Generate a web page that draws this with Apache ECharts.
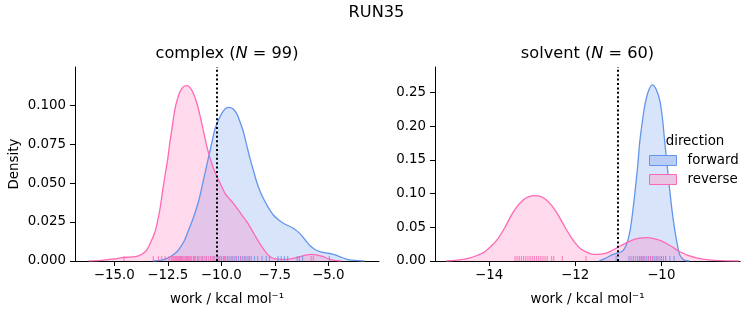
<!DOCTYPE html>
<html><head><meta charset="utf-8">
<script src="https://cdn.jsdelivr.net/npm/echarts@6/dist/echarts.min.js"></script>
<style>html,body{margin:0;padding:0;background:#fff}#c{width:753px;height:325px}</style>
</head><body><div id="c"></div>
<script>
// ---- data ----
const complexForwardKde = [[-13.2,0],[-12.8,0.0005],[-12.48,0.002],[-12.2,0.0045],[-12.01,0.007],[-11.75,0.0125],[-11.54,0.0195],[-11.3,0.028],[-11.07,0.038],[-10.85,0.051],[-10.61,0.0658],[-10.45,0.0755],[-10.29,0.085],[-10.13,0.0905],[-9.98,0.0947],[-9.8,0.0978],[-9.63,0.0985],[-9.45,0.0975],[-9.28,0.0945],[-9.12,0.089],[-8.97,0.0829],[-8.81,0.074],[-8.66,0.0658],[-8.5,0.058],[-8.35,0.0508],[-8.2,0.045],[-8.04,0.0402],[-7.8,0.0342],[-7.57,0.0295],[-7.33,0.0265],[-7.1,0.0242],[-6.87,0.0226],[-6.64,0.021],[-6.44,0.019],[-6.24,0.0163],[-6.05,0.013],[-5.85,0.0098],[-5.6,0.0072],[-5.39,0.006],[-5.1,0.0052],[-4.84,0.0045],[-4.65,0.0037],[-4.45,0.0027],[-4.2,0.0014],[-3.91,0.0006],[-3.6,0.0002],[-3.3,0]];
const complexReverseKde = [[-16.2,0],[-15.6,0.0004],[-15.0,0.0013],[-14.65,0.0021],[-14.2,0.0026],[-13.95,0.003],[-13.7,0.0045],[-13.49,0.007],[-13.3,0.012],[-13.1,0.0188],[-12.98,0.0255],[-12.86,0.034],[-12.75,0.0445],[-12.63,0.055],[-12.5,0.066],[-12.4,0.0765],[-12.28,0.0875],[-12.16,0.098],[-12.05,0.104],[-11.95,0.108],[-11.8,0.1115],[-11.62,0.1124],[-11.45,0.111],[-11.31,0.1075],[-11.15,0.1015],[-11.0,0.0935],[-10.8,0.081],[-10.61,0.07],[-10.37,0.0595],[-10.2,0.054],[-10.06,0.05],[-9.83,0.0434],[-9.64,0.0402],[-9.44,0.037],[-9.12,0.031],[-8.81,0.0252],[-8.58,0.02],[-8.35,0.0145],[-8.1,0.009],[-7.88,0.0049],[-7.68,0.0024],[-7.49,0.0013],[-7.2,0.001],[-6.94,0.0011],[-6.6,0.0018],[-6.32,0.0028],[-6.05,0.0038],[-5.78,0.0043],[-5.5,0.0038],[-5.23,0.0028],[-4.99,0.0014],[-4.77,0.0006],[-4.4,0]];
const solventForwardKde = [[-11.45,0],[-11.3,0.004],[-11.15,0.009],[-11.04,0.0114],[-10.95,0.013],[-10.88,0.0163],[-10.8,0.026],[-10.73,0.0435],[-10.67,0.07],[-10.61,0.103],[-10.55,0.14],[-10.5,0.177],[-10.44,0.207],[-10.38,0.232],[-10.3,0.252],[-10.21,0.2615],[-10.12,0.255],[-10.03,0.237],[-9.97,0.21],[-9.92,0.177],[-9.86,0.14],[-9.8,0.103],[-9.74,0.07],[-9.68,0.0435],[-9.62,0.022],[-9.57,0.0089],[-9.5,0.003],[-9.45,0.001],[-9.35,0]];
const solventReverseKde = [[-15.0,0],[-14.75,0.0012],[-14.49,0.004],[-14.3,0.0078],[-14.1,0.0138],[-13.95,0.0225],[-13.79,0.0337],[-13.63,0.0505],[-13.48,0.0684],[-13.35,0.081],[-13.21,0.0906],[-13.08,0.0955],[-12.94,0.097],[-12.8,0.0955],[-12.67,0.0906],[-12.53,0.081],[-12.4,0.0684],[-12.24,0.0505],[-12.08,0.0337],[-11.89,0.019],[-11.7,0.0122],[-11.55,0.0097],[-11.4,0.0102],[-11.25,0.0125],[-11.12,0.0163],[-10.93,0.023],[-10.73,0.0295],[-10.54,0.0335],[-10.34,0.0346],[-10.15,0.0328],[-9.95,0.0285],[-9.76,0.0215],[-9.57,0.0138],[-9.38,0.0085],[-9.18,0.0048],[-8.9,0.0017],[-8.63,0.0005],[-8.2,0]];

const complexForwardWork = [-11.9,-11.6,-11.3,-11.1,-10.9,-10.7,-10.5,-10.35,-10.2,-10.1,-10.0,-9.9,-9.8,-9.7,-9.6,-9.5,-9.4,-9.3,-9.2,-9.1,-9.0,-8.9,-8.8,-8.7,-8.6,-8.45,-8.3,-8.1,-7.9,-7.75,-7.35,-7.2,-7.05,-6.9,-6.45,-6.35,-6.2,-4.95];
const complexReverseWork = [-14.55,-13.18,-12.94,-12.79,-12.63,-12.45,-12.35,-12.3,-12.25,-12.2,-12.15,-12.1,-12.05,-12.0,-11.95,-11.9,-11.85,-11.8,-11.75,-11.7,-11.65,-11.6,-11.55,-11.5,-11.45,-11.4,-11.3,-11.25,-11.2,-11.1,-11.0,-10.9,-10.8,-10.7,-10.6,-10.5,-10.4,-10.3,-10.15,-10.0,-9.85,-9.7,-9.5,-9.3,-9.1,-8.9,-8.7,-5.8,-5.7];
const solventForwardWork = [-11.05,-10.75,-10.65,-10.55,-10.5,-10.45,-10.4,-10.35,-10.3,-10.25,-10.2,-10.15,-10.1,-10.05,-10.0,-9.95,-9.9,-9.8,-9.7];
const solventReverseWork = [-13.4,-13.35,-13.3,-13.25,-13.2,-13.15,-13.1,-13.05,-13.0,-12.95,-12.9,-12.85,-12.8,-12.75,-12.7,-12.65,-12.55,-12.5,-12.3,-11.75,-10.7,-10.6,-10.5,-10.45,-10.4,-10.3,-10.25,-10.2,-10.1,-10.0,-9.9];

const complexMarker = -10.2;
const solventMarker = -11.01;

const complexXTicks = [-15, -12.5, -10, -7.5, -5];
const complexYTicks = [0, 0.025, 0.05, 0.075, 0.1];
const solventXTicks = [-14, -12, -10];
const solventYTicks = [0, 0.05, 0.1, 0.15, 0.2, 0.25];

const FONT = 'DejaVu Sans';
const FWD = '#6495ED', REV = '#FF69B4';
const TICK_FS = 13.4, TITLE_FS = 16.2;

function minus(s){ return s.replace('-', '\u2212'); }
function xAxis(idx, min, max, ticks, dec){
  return {
    type:'value', gridIndex: idx, min, max,
    axisLine:{show:true, onZero:false, lineStyle:{color:'#000', width:1}},
    axisTick:{show:true, length:5, lineStyle:{color:'#000', width:1}, customValues: ticks},
    axisLabel:{customValues: ticks, formatter: v => minus(v.toFixed(dec)), color:'#000', fontSize:TICK_FS, fontFamily:FONT, margin:8},
    splitLine:{show:false},
    name:'work / kcal mol\u207B\u00B9', nameLocation:'middle', nameGap:32,
    nameTextStyle:{color:'#000', fontSize:TICK_FS, fontFamily:FONT}
  };
}
function yAxis(idx, max, ticks, dec, name){
  return {
    type:'value', gridIndex: idx, min:0, max,
    axisLine:{show:true, lineStyle:{color:'#000', width:1}},
    axisTick:{show:true, length:5, lineStyle:{color:'#000', width:1}, customValues: ticks},
    axisLabel:{customValues: ticks, formatter: v => v.toFixed(dec), color:'#000', fontSize:TICK_FS, fontFamily:FONT, margin:9},
    splitLine:{show:false},
    name: name || '', nameLocation:'middle', nameGap:54,
    nameTextStyle:{color:'#000', fontSize:TICK_FS, fontFamily:FONT}
  };
}
function kde(name, data, color, idx, marker){
  const s = {
    name, type:'line', xAxisIndex:idx, yAxisIndex:idx, data, smooth:0.3, symbol:'none',
    lineStyle:{color, width:1.3}, itemStyle:{color},
    areaStyle:{color, opacity:0.25}, silent:true, z:2
  };
  if (marker !== undefined) {
    s.markLine = {silent:true, symbol:['none','none'], label:{show:false},
      lineStyle:{color:'#000', type:[2,2.4], width:2}, data:[{xAxis:marker}], z:5};
  }
  return s;
}
function rug(name, vals, color, idx){
  return {
    name, type:'scatter', xAxisIndex:idx, yAxisIndex:idx,
    data: vals.map(v => [v, 0]), symbol:'rect', symbolSize:[1.2,5], symbolOffset:[0,-2.5],
    itemStyle:{color, opacity:0.75}, silent:true, z:3
  };
}

const chart = echarts.init(document.getElementById('c'), null, {renderer:'canvas'});
chart.setOption({
  animation:false,
  backgroundColor:'#fff',
  grid:[{left:75, top:67, width:304, height:194}, {left:435, top:67, width:305, height:194}],
  xAxis:[xAxis(0, -16.84, -2.63, complexXTicks, 1), xAxis(1, -15.26, -8.17, solventXTicks, 0)],
  yAxis:[yAxis(0, 0.1244, complexYTicks, 3, 'Density'), yAxis(1, 0.288, solventYTicks, 2)],
  legend:{
    orient:'vertical', left:649, top:154, padding:0, itemWidth:27, itemHeight:10, itemGap:6,
    textStyle:{color:'#000', fontSize:TICK_FS, fontFamily:FONT, padding:[0,0,0,6]},
    selectedMode:false,
    data:[
      {name:'forward', icon:'rect', itemStyle:{color:'#B9CDF5', borderColor:FWD, borderWidth:1}},
      {name:'reverse', icon:'rect', itemStyle:{color:'#E8C6E4', borderColor:REV, borderWidth:1}}
    ]
  },
  graphic:[
    {type:'text', x:376.5, y:13, style:{text:'RUN35', font:`${TITLE_FS}px "${FONT}"`, fill:'#000', align:'center', verticalAlign:'middle'}},
    {type:'text', x:227, y:54, style:{text:'{n|complex (}{i|N}{n| = 99)}', fill:'#000', align:'center', verticalAlign:'middle',
      rich:{n:{fontSize:TITLE_FS, fontFamily:FONT, fill:'#000'}, i:{fontSize:TITLE_FS, fontFamily:FONT, fontStyle:'italic', fill:'#000'}}}},
    {type:'text', x:587.5, y:54, style:{text:'{n|solvent (}{i|N}{n| = 60)}', fill:'#000', align:'center', verticalAlign:'middle',
      rich:{n:{fontSize:TITLE_FS, fontFamily:FONT, fill:'#000'}, i:{fontSize:TITLE_FS, fontFamily:FONT, fontStyle:'italic', fill:'#000'}}}},
    {type:'text', x:695, y:142, style:{text:'direction', font:`${TICK_FS}px "${FONT}"`, fill:'#000', align:'center', verticalAlign:'middle'}}
  ],
  series:[
    kde('forward', complexForwardKde, FWD, 0, complexMarker),
    kde('reverse', complexReverseKde, REV, 0),
    rug('forward', complexForwardWork, FWD, 0),
    rug('reverse', complexReverseWork, REV, 0),
    kde('forward', solventForwardKde, FWD, 1, solventMarker),
    kde('reverse', solventReverseKde, REV, 1),
    rug('forward', solventForwardWork, FWD, 1),
    rug('reverse', solventReverseWork, REV, 1)
  ]
});
</script></body></html>
